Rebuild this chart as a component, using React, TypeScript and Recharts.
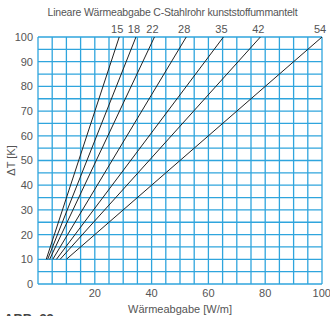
import { CartesianGrid, Line, LineChart, ReferenceLine, XAxis, YAxis } from "recharts";

const pipes = [15, 18, 22, 28, 35, 42, 54];
const outputAt10K = [2.9, 3.4, 4.1, 5.2, 6.5, 7.8, 10];
const outputAt100K = [28.6, 34.5, 41, 52.2, 65.3, 78.3, 100];
const deltaTs = [10, 100];

const xTicks = [20, 40, 60, 80, 100];
const yTicks = [0, 10, 20, 30, 40, 50, 60, 70, 80, 90, 100];
const gridSteps = [0, 5, 10, 15, 20, 25, 30, 35, 40, 45, 50, 55, 60, 65, 70, 75, 80, 85, 90, 95, 100];

const font = "'Liberation Sans', Arial, sans-serif";
const textColor = "#555";
const gridColor = "#2fa5dd";

const series = pipes.map((p, i) => ({
  name: String(p),
  data: [
    { x: outputAt10K[i], y: deltaTs[0] },
    { x: outputAt100K[i], y: deltaTs[1] },
  ],
}));

export default function App() {
  return (
    <div style={{ position: "absolute", left: 0, top: 0, width: 330, height: 316, overflow: "hidden", fontFamily: font, background: "#fff" }}>
      <div
        style={{
          position: "absolute",
          left: 0,
          width: 345,
          top: 6,
          textAlign: "center",
          fontSize: 10.5,
          color: textColor,
          letterSpacing: -0.2,
        }}
      >
        Lineare Wärmeabgabe C-Stahlrohr kunststoffummantelt
      </div>
      <LineChart width={330} height={316} margin={{ top: 37, right: 8, left: 0, bottom: 0 }}>
        <CartesianGrid stroke="none" />
        {gridSteps.map((v) => (
          <ReferenceLine key={"v" + v} x={v} stroke={gridColor} strokeWidth={1.3} />
        ))}
        {gridSteps.map((v) => (
          <ReferenceLine key={"h" + v} y={v} stroke={gridColor} strokeWidth={1.3} />
        ))}
        <XAxis
          type="number"
          dataKey="x"
          domain={[0, 100]}
          ticks={xTicks}
          axisLine={false}
          tickLine={false}
          tickSize={0}
          tickMargin={5}
          height={32}
          allowDuplicatedCategory={false}
          tick={{ fill: textColor, fontSize: 11, fontFamily: font }}
          label={{
            value: "Wärmeabgabe  [W/m]",
            position: "insideBottom",
            offset: 3,
            fill: textColor,
            fontSize: 11,
            fontFamily: font,
          }}
        />
        <YAxis
          type="number"
          dataKey="y"
          domain={[0, 100]}
          ticks={yTicks}
          axisLine={false}
          tickLine={false}
          tickSize={0}
          tickMargin={5}
          width={38}
          tick={{ fill: textColor, fontSize: 11, fontFamily: font }}
          label={{
            value: "ΔT [K]",
            angle: -90,
            position: "insideLeft",
            offset: 11,
            fill: textColor,
            fontSize: 11,
            fontFamily: font,
            style: { textAnchor: "middle" },
          }}
        />
        {series.map((s) => (
          <Line
            key={s.name}
            data={s.data}
            dataKey="y"
            type="linear"
            stroke="#222"
            strokeWidth={1}
            dot={false}
            isAnimationActive={false}
            label={(props: any) =>
              props.index === 1 ? (
                <text
                  key={s.name}
                  x={props.x - 2}
                  y={props.y - 4}
                  textAnchor="middle"
                  fill={textColor}
                  fontSize={11}
                  fontFamily={font}
                >
                  {s.name}
                </text>
              ) : (
                <g key={s.name + "-lo"} />
              )
            }
          />
        ))}
      </LineChart>
      <div
        style={{
          position: "absolute",
          left: 4,
          top: 311,
          fontSize: 13,
          fontWeight: "bold",
          color: "#444",
        }}
      >
        ABB. 33
      </div>
    </div>
  );
}
